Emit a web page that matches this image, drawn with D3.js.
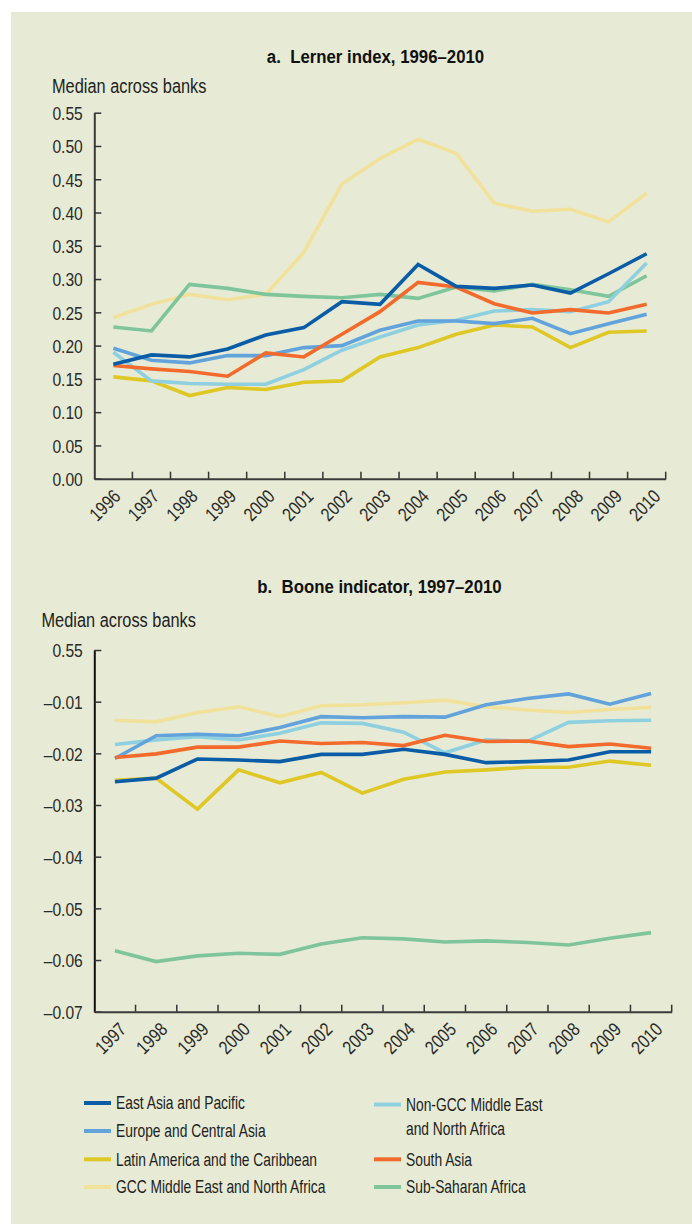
<!DOCTYPE html>
<html>
<head>
<meta charset="utf-8">
<script src="https://cdn.jsdelivr.net/npm/d3@7"></script>
<style>
  html, body { margin: 0; padding: 0; background: #ffffff; }
  svg { display: block; font-family: "Liberation Sans", Arial, sans-serif; }
</style>
</head>
<body>
<svg id="chart" width="692" height="1224"></svg>
<script>
// Regions, in legend order
const regions = [
  "East Asia and Pacific",
  "Europe and Central Asia",
  "Latin America and the Caribbean",
  "GCC Middle East and North Africa",
  "Non-GCC Middle East and North Africa",
  "South Asia",
  "Sub-Saharan Africa"
];
const regionColors = ["#0a5ca6", "#62a3dc", "#dfc726", "#f1e19a", "#8fd0e0", "#f26b2c", "#7fc59b"];

// Panel a: Lerner index, 1996–2010
const lernerYears = ["1996","1997","1998","1999","2000","2001","2002","2003","2004","2005","2006","2007","2008","2009","2010"];
const lernerEastAsia   = [0.172,0.186,0.183,0.195,0.216,0.227,0.266,0.262,0.322,0.289,0.286,0.291,0.279,0.308,0.338];
const lernerEurope     = [0.196,0.178,0.174,0.185,0.185,0.197,0.200,0.223,0.237,0.237,0.233,0.241,0.218,0.233,0.247];
const lernerLatin      = [0.153,0.147,0.125,0.137,0.134,0.145,0.147,0.183,0.197,0.217,0.231,0.228,0.197,0.220,0.222];
const lernerGCC        = [0.242,0.262,0.277,0.269,0.277,0.340,0.443,0.481,0.510,0.489,0.414,0.402,0.405,0.386,0.429];
const lernerNonGCC     = [0.190,0.147,0.143,0.142,0.142,0.164,0.193,0.213,0.231,0.238,0.252,0.254,0.251,0.266,0.324];
const lernerSouthAsia  = [0.170,0.165,0.161,0.154,0.189,0.183,0.217,0.251,0.295,0.288,0.263,0.249,0.254,0.249,0.262];
const lernerSubSaharan = [0.228,0.222,0.292,0.286,0.277,0.274,0.272,0.277,0.271,0.288,0.282,0.292,0.284,0.274,0.305];
const lernerTicks      = [0, 0.05, 0.10, 0.15, 0.20, 0.25, 0.30, 0.35, 0.40, 0.45, 0.50, 0.55];
const lernerTickLabels = ["0.00","0.05","0.10","0.15","0.20","0.25","0.30","0.35","0.40","0.45","0.50","0.55"];

// Panel b: Boone indicator, 1997–2010
const booneYears = ["1997","1998","1999","2000","2001","2002","2003","2004","2005","2006","2007","2008","2009","2010"];
const booneEastAsia   = [-0.0255,-0.0248,-0.0211,-0.0213,-0.0216,-0.0202,-0.0202,-0.0192,-0.0202,-0.0218,-0.0216,-0.0213,-0.0197,-0.0197];
const booneEurope     = [-0.0210,-0.0166,-0.0163,-0.0166,-0.0150,-0.0129,-0.0131,-0.0129,-0.0130,-0.0106,-0.0094,-0.0085,-0.0105,-0.0084];
const booneLatin      = [-0.0252,-0.0248,-0.0308,-0.0232,-0.0257,-0.0237,-0.0277,-0.0250,-0.0236,-0.0232,-0.0227,-0.0227,-0.0215,-0.0223];
const booneGCC        = [-0.0136,-0.0139,-0.0121,-0.0110,-0.0129,-0.0108,-0.0106,-0.0102,-0.0097,-0.0110,-0.0116,-0.0121,-0.0115,-0.0111];
const booneNonGCC     = [-0.0183,-0.0174,-0.0168,-0.0174,-0.0161,-0.0141,-0.0142,-0.0159,-0.0199,-0.0174,-0.0177,-0.0140,-0.0137,-0.0136];
const booneSouthAsia  = [-0.0208,-0.0201,-0.0188,-0.0188,-0.0176,-0.0181,-0.0179,-0.0185,-0.0165,-0.0177,-0.0176,-0.0187,-0.0182,-0.0190];
const booneSubSaharan = [-0.0582,-0.0603,-0.0592,-0.0587,-0.0589,-0.0569,-0.0557,-0.0559,-0.0565,-0.0563,-0.0566,-0.0571,-0.0558,-0.0547];
const booneTicks      = [0, -0.01, -0.02, -0.03, -0.04, -0.05, -0.06, -0.07];
const booneTickLabels = ["0.55","\u20130.01","\u20130.02","\u20130.03","\u20130.04","\u20130.05","\u20130.06","\u20130.07"];

const svg = d3.select("#chart");

// Condensed look: squeeze text horizontally around its anchor point
function placeText(sel, x, y, sx, extra) {
  sel.attr("x", 0).attr("y", 0)
     .attr("transform", `translate(${x},${y})${extra || ""} scale(${sx},1)`);
}

// Horizontal squeeze that gives a sample string the wanted width
function squeezeFor(sample, size, weight, width) {
  const t = svg.append("text")
    .attr("font-size", size).attr("font-weight", weight)
    .attr("visibility", "hidden").text(sample);
  const w = t.node().getComputedTextLength();
  t.remove();
  return w > 0 ? width / w : 0.8;
}

const tickSize = 19;
const tickSqueeze = squeezeFor("0.55", tickSize, "normal", 30.4);
const titleSqueeze = squeezeFor("a.  Lerner index, 1996\u20132010".replace(/  /g, " \u00a0"), 18.5, "bold", 217.5);
const unitSqueeze = squeezeFor("Median across banks", 19.5, "normal", 154.5);
const legendSqueeze = squeezeFor("GCC Middle East and North Africa", 17.7, "normal", 209.5);

// Panel background
svg.append("rect")
  .attr("x", 11).attr("y", 12)
  .attr("width", 692 - 11).attr("height", 1224 - 12)
  .attr("fill", "#e7ebd5");

// Draw order: lighter lines underneath, dark blue on top
const drawOrder = [3, 6, 2, 4, 1, 5, 0];

function drawPanel(opts) {
  const g = svg.append("g");
  const x = d3.scaleBand().domain(opts.years).range(opts.xRange).padding(0);
  const y = d3.scaleLinear().domain(opts.yDomain).range(opts.yRange);
  const bw = x.bandwidth();

  // Title
  g.append("text")
    .attr("text-anchor", "middle")
    .attr("font-size", 18.5).attr("font-weight", "bold")
    .attr("fill", "#111")
    .text(opts.title.replace(/  /g, " \u00a0"))
    .call(placeText, opts.titleX, opts.titleY, titleSqueeze);

  // Unit label
  g.append("text")
    .attr("font-size", 19.5)
    .attr("fill", "#222")
    .text("Median across banks")
    .call(placeText, opts.unitX, opts.unitY, unitSqueeze);

  // Series
  const line = d3.line()
    .x((d, i) => x(opts.years[i]) + bw / 2)
    .y(d => y(d));
  drawOrder.forEach(k => {
    g.append("path")
      .datum(opts.series[k])
      .attr("d", line)
      .attr("fill", "none")
      .attr("stroke", regionColors[k])
      .attr("stroke-width", 3.6)
      .attr("stroke-linejoin", "miter");
  });

  // Y axis, ticks pointing into the plot
  const yAxis = d3.axisLeft(y)
    .tickValues(opts.ticks)
    .tickFormat((d, i) => opts.tickLabels[i])
    .tickSize(-7)
    .tickSizeOuter(0);
  const ya = g.append("g")
    .attr("transform", `translate(${opts.xRange[0]},0)`)
    .call(yAxis);
  ya.attr("font-family", null).attr("font-size", null);
  ya.select(".domain").attr("stroke", opts.yAxisColor).attr("stroke-width", 2);
  ya.selectAll(".tick line").attr("stroke", "#333").attr("stroke-width", 1.5);
  ya.selectAll(".tick text")
    .attr("font-size", tickSize).attr("fill", "#2a2a2a")
    .attr("dy", "0.36em")
    .each(function () { placeText(d3.select(this), -11.5, 0, tickSqueeze); });

  // X axis: ticks on band boundaries, labels at band centres
  const xAxis = d3.axisBottom(x).tickSize(-7).tickSizeOuter(0);
  const xa = g.append("g")
    .attr("transform", `translate(0,${opts.yRange[0]})`)
    .call(xAxis);
  xa.attr("font-family", null).attr("font-size", null);
  xa.select(".domain").attr("stroke", "#3a3a3a").attr("stroke-width", 2);
  xa.selectAll(".tick line")
    .attr("x1", bw / 2).attr("x2", bw / 2)
    .attr("stroke", "#333").attr("stroke-width", 1.5);
  xa.selectAll(".tick text")
    .attr("font-size", tickSize).attr("fill", "#2a2a2a")
    .attr("text-anchor", "end")
    .attr("dy", null)
    .each(function (d, i) {
      placeText(d3.select(this), opts.labelDx + i * opts.labelStep, opts.labelDy, tickSqueeze, " rotate(-45)");
    });
}

drawPanel({
  title: "a.  Lerner index, 1996\u20132010",
  titleX: 375.5, titleY: 63,
  unitX: 52, unitY: 93,
  years: lernerYears,
  xRange: [94.3, 665.7],
  yDomain: [0, 0.55],
  yRange: [478.7, 112.7],
  ticks: lernerTicks,
  tickLabels: lernerTickLabels,
  series: [lernerEastAsia, lernerEurope, lernerLatin, lernerGCC, lernerNonGCC, lernerSouthAsia, lernerSubSaharan],
  yAxisColor: "#3a3a3a",
  labelDx: 8.4, labelStep: 0.47, labelDy: 18.9
});

drawPanel({
  title: "b.  Boone indicator, 1997\u20132010",
  titleX: 379.5, titleY: 593,
  unitX: 41.5, unitY: 627,
  years: booneYears,
  xRange: [94.3, 671.7],
  yDomain: [-0.07, 0],
  yRange: [1011.7, 650],
  ticks: booneTicks,
  tickLabels: booneTickLabels,
  series: [booneEastAsia, booneEurope, booneLatin, booneGCC, booneNonGCC, booneSouthAsia, booneSubSaharan],
  yAxisColor: "#111",
  labelDx: 12.5, labelStep: 0, labelDy: 19
});

// Legend: two columns
const legendItems = [
  { k: 0, col: 0, row: 0, lines: ["East Asia and Pacific"] },
  { k: 1, col: 0, row: 1, lines: ["Europe and Central Asia"] },
  { k: 2, col: 0, row: 2, lines: ["Latin America and the Caribbean"] },
  { k: 3, col: 0, row: 3, lines: ["GCC Middle East and North Africa"] },
  { k: 4, col: 1, row: 0, lines: ["Non-GCC Middle East", "and North Africa"] },
  { k: 5, col: 1, row: 2, lines: ["South Asia"] },
  { k: 6, col: 1, row: 3, lines: ["Sub-Saharan Africa"] }
];
const legendCols = [84, 374];
const legendRowY = [1103, 1131, 1159.3, 1187];
const legend = svg.append("g");
legendItems.forEach(item => {
  const x0 = legendCols[item.col];
  const yc = legendRowY[item.row] + (item.col === 1 && item.row === 0 ? 1.5 : 0);
  legend.append("line")
    .attr("x1", x0).attr("x2", x0 + 27)
    .attr("y1", yc).attr("y2", yc)
    .attr("stroke", regionColors[item.k])
    .attr("stroke-width", 4);
  item.lines.forEach((t, j) => {
    legend.append("text")
      .attr("dy", "0.35em")
      .attr("font-size", 17.7)
      .attr("fill", "#222")
      .text(t)
      .call(placeText, x0 + 32, yc + j * 24.5, legendSqueeze);
  });
});
</script>
</body>
</html>
